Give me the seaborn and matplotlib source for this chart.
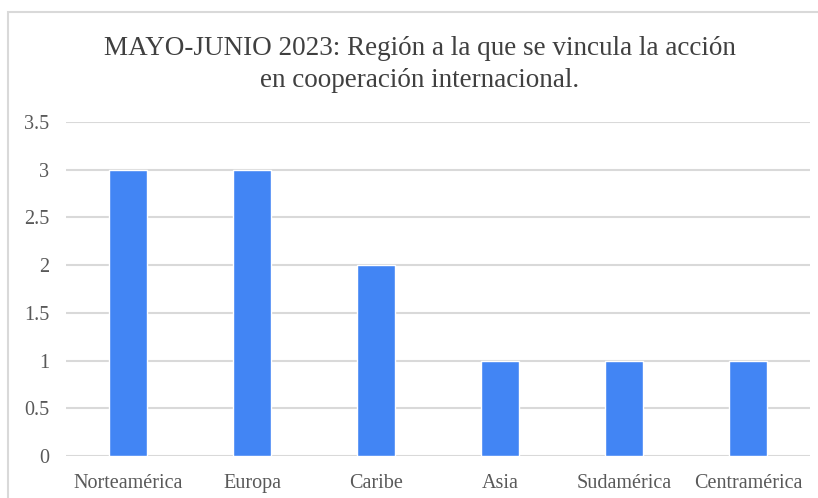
import matplotlib
matplotlib.use("Agg")
import matplotlib.pyplot as plt
import seaborn as sns
import pandas as pd
from matplotlib.patches import Rectangle

categories = ["Norteamérica", "Europa", "Caribe", "Asia", "Sudamérica", "Centramérica"]
values = [3, 3, 2, 1, 1, 1]
yticks = [0, 0.5, 1, 1.5, 2, 2.5, 3, 3.5]
ytick_labels = ["0", "0.5", "1", "1.5", "2", "2.5", "3", "3.5"]
title = "MAYO-JUNIO 2023: Región a la que se vincula la acción\nen cooperación internacional."

sns.set_style("white")
plt.rcParams["font.family"] = ["Liberation Serif", "DejaVu Serif"]

df = pd.DataFrame({"region": categories, "valor": values})

fig = plt.figure(figsize=(8.18, 4.98), dpi=100)
ax = fig.add_axes([66 / 818, 1 - 456 / 498, 744 / 818, (456 - 122) / 498])

sns.barplot(data=df, x="region", y="valor", color="#4285F4", saturation=1,
            width=0.31, ax=ax, zorder=3)

ax.set_ylim(0, 3.5)
ax.set_xlim(-0.5, len(categories) - 0.5)
ax.set_yticks(yticks)
ax.set_yticklabels(ytick_labels)
ax.yaxis.grid(True, color="#d9d9d9", linewidth=1.5, zorder=0)
ax.set_axisbelow(True)
for s in ax.spines.values():
    s.set_visible(False)
ax.tick_params(axis="both", length=0, labelsize=14.5, labelcolor="#595959")
ax.tick_params(axis="y", pad=12)
ax.tick_params(axis="x", pad=13)
ax.set_xlabel("")
ax.set_ylabel("")

fig.text(420 / 818, 1 - 64.5 / 498, title, ha="center", va="center",
         fontsize=19.5, color="#404040", linespacing=1.32)

fig.patches.append(Rectangle((8 / 818, -0.1), 1.2, 1 - 12.5 / 498 + 0.1,
                             transform=fig.transFigure, fill=False,
                             edgecolor="#d9d9d9", linewidth=1.5))

fig.savefig("out.png", dpi=100)
